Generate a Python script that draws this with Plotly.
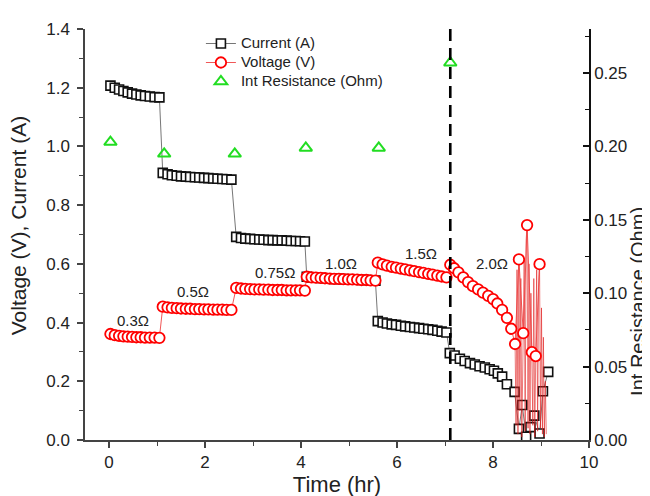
import plotly.graph_objects as go

# ---------------- data ----------------
time_hr = [
    # 0.3 ohm
    0.03, 0.12, 0.21, 0.30, 0.39, 0.48, 0.57, 0.66, 0.75, 0.85, 0.95, 1.05,
    # 0.5 ohm
    1.12, 1.22, 1.31, 1.41, 1.50, 1.60, 1.69, 1.79, 1.88, 1.98, 2.07, 2.17, 2.26, 2.36, 2.45, 2.55,
    # 0.75 ohm
    2.65, 2.75, 2.84, 2.94, 3.03, 3.13, 3.22, 3.32, 3.41, 3.51, 3.60, 3.70, 3.79, 3.89, 3.98, 4.08,
    # 1.0 ohm
    4.12, 4.22, 4.31, 4.41, 4.50, 4.60, 4.69, 4.79, 4.88, 4.98, 5.07, 5.17, 5.26, 5.36, 5.45, 5.55,
    # 1.5 ohm
    5.60, 5.70, 5.79, 5.89, 5.98, 6.08, 6.17, 6.27, 6.36, 6.46, 6.55, 6.65, 6.74, 6.84, 6.93, 7.03,
]

current_a = [
    1.207, 1.200, 1.194, 1.189, 1.184, 1.180, 1.177, 1.174, 1.172, 1.170, 1.168, 1.167,
    0.910, 0.905, 0.902, 0.900, 0.898, 0.897, 0.896, 0.895, 0.894, 0.893, 0.892, 0.891, 0.890, 0.889, 0.888, 0.887,
    0.692, 0.688, 0.686, 0.685, 0.684, 0.683, 0.682, 0.681, 0.681, 0.680, 0.680, 0.679, 0.678, 0.678, 0.677, 0.676,
    0.556, 0.554, 0.553, 0.552, 0.551, 0.550, 0.549, 0.549, 0.548, 0.547, 0.547, 0.546, 0.545, 0.545, 0.544, 0.543,
    0.405, 0.400, 0.397, 0.394, 0.392, 0.389, 0.387, 0.385, 0.383, 0.381, 0.379, 0.377, 0.375, 0.372, 0.369, 0.366,
]

voltage_v = [
    0.361, 0.357, 0.355, 0.353, 0.352, 0.351, 0.350, 0.350, 0.349, 0.349, 0.349, 0.348,
    0.454, 0.452, 0.450, 0.449, 0.448, 0.447, 0.447, 0.446, 0.446, 0.445, 0.445, 0.444, 0.444, 0.444, 0.443, 0.443,
    0.518, 0.516, 0.515, 0.514, 0.513, 0.513, 0.512, 0.512, 0.511, 0.511, 0.511, 0.510, 0.510, 0.510, 0.510, 0.509,
    0.556, 0.554, 0.553, 0.552, 0.551, 0.550, 0.549, 0.549, 0.548, 0.547, 0.547, 0.546, 0.545, 0.545, 0.544, 0.543,
    0.604, 0.598, 0.594, 0.590, 0.587, 0.584, 0.581, 0.578, 0.575, 0.572, 0.569, 0.566, 0.563, 0.560, 0.557, 0.554,
]

# 2.0 ohm segment and end of discharge
current_end_time = [7.10, 7.20, 7.31, 7.41, 7.52, 7.62, 7.72, 7.83, 7.93, 8.02, 8.10, 8.19, 8.29, 8.45,
                    8.54, 8.61, 8.69, 8.78, 8.86, 8.97, 9.04, 9.15]
current_end_a = [0.296, 0.288, 0.277, 0.269, 0.262, 0.257, 0.251, 0.247, 0.241, 0.236, 0.227, 0.216, 0.190, 0.164,
                 0.038, 0.119, 0.011, 0.044, 0.083, 0.022, 0.166, 0.232]

voltage_end_time = [7.11, 7.19, 7.28, 7.38, 7.48, 7.58, 7.69, 7.79, 7.90, 8.00, 8.09, 8.19, 8.29, 8.38, 8.46,
                    8.54, 8.63, 8.71, 8.81, 8.89, 8.97]
voltage_end_v = [0.597, 0.585, 0.571, 0.554, 0.538, 0.524, 0.513, 0.502, 0.491, 0.480, 0.465, 0.443, 0.416, 0.379, 0.327,
                 0.615, 0.364, 0.732, 0.299, 0.286, 0.599]

# raw (unmarked) voltage trace in the unstable end region
raw_end_time = [8.46, 8.48, 8.50, 8.52, 8.54, 8.56, 8.58, 8.60, 8.63, 8.65, 8.67, 8.69, 8.71, 8.73, 8.75,
                8.77, 8.79, 8.81, 8.83, 8.85, 8.87, 8.89, 8.91, 8.93, 8.95, 8.97, 8.99, 9.01, 9.03, 9.05,
                9.07, 9.09, 9.11]
raw_end_v = [0.327, 0.05, 0.58, 0.02, 0.615, 0.10, 0.55, 0.01, 0.364, 0.62, 0.03, 0.68, 0.732, 0.04, 0.60,
             0.02, 0.50, 0.299, 0.05, 0.55, 0.01, 0.286, 0.58, 0.03, 0.52, 0.599, 0.04, 0.45, 0.02, 0.35,
             0.01, 0.20, 0.02]

resistance_time = [0.03, 1.15, 2.62, 4.10, 5.62, 7.11]
int_resistance_ohm = [0.203, 0.195, 0.195, 0.199, 0.199, 0.257]

load_labels = ["0.3Ω", "0.5Ω", "0.75Ω", "1.0Ω", "1.5Ω", "2.0Ω"]
load_label_time = [0.51, 1.75, 3.45, 4.84, 6.51, 7.98]
load_label_v = [0.407, 0.505, 0.569, 0.602, 0.637, 0.600]

divider_time = 7.11

# ---------------- figure ----------------
FONT = "Liberation Sans, Arial, sans-serif"
TXT = "#222222"


def legend_name(s):
    return '<span style="font-size:15px">' + s + '</span>'


fig = go.Figure()

fig.add_trace(go.Scatter(
    x=time_hr + current_end_time, y=current_a + current_end_a,
    mode="lines+markers", name=legend_name("Current (A)"),
    line=dict(color="#666666", width=0.9),
    marker=dict(symbol="square", size=9, color="white", line=dict(color="#111111", width=1.6)),
))

fig.add_trace(go.Scatter(
    x=raw_end_time, y=raw_end_v, mode="lines", showlegend=False,
    line=dict(color="rgba(225,30,30,0.75)", width=0.8), hoverinfo="skip",
))

fig.add_trace(go.Scatter(
    x=time_hr + voltage_end_time, y=voltage_v + voltage_end_v,
    mode="lines+markers", name=legend_name("Voltage (V)"),
    line=dict(color="#ee4444", width=0.9),
    marker=dict(symbol="circle", size=10.5, color="white", line=dict(color="#ff0000", width=1.8)),
))

fig.add_trace(go.Scatter(
    x=resistance_time, y=int_resistance_ohm, yaxis="y2",
    mode="markers", name=legend_name("Int Resistance (Ohm)"),
    marker=dict(symbol="triangle-up-open", size=11, color="#22dd22", line=dict(color="#22dd22", width=2)),
))

for txt, tx, ty in zip(load_labels, load_label_time, load_label_v):
    fig.add_annotation(x=tx, y=ty, text=txt, showarrow=False,
                       font=dict(family=FONT, size=15, color=TXT))

# axis titles placed as in the reference
fig.add_annotation(xref="paper", yref="paper", x=0, y=0.52, xshift=-67, textangle=-90,
                   xanchor="center", yanchor="middle",
                   text="Voltage (V), Current (A)", showarrow=False,
                   font=dict(family=FONT, size=21, color=TXT))
fig.add_annotation(xref="paper", yref="paper", x=1, y=0.336, xshift=49, textangle=-90,
                   xanchor="center", yanchor="middle",
                   text="Int Resistance (Ohm)", showarrow=False,
                   font=dict(family=FONT, size=20, color=TXT))

fig.add_shape(type="line", xref="x", yref="paper", x0=divider_time, x1=divider_time, y0=0, y1=1,
              line=dict(color="black", width=2.6, dash="12px,7px"))

fig.update_layout(
    width=650, height=496,
    margin=dict(l=77, r=69, t=20, b=54),
    paper_bgcolor="white", plot_bgcolor="white",
    font=dict(family=FONT, size=17, color=TXT),
    showlegend=True,
    legend=dict(x=0.23, y=1.0, xanchor="left", yanchor="top",
                font=dict(family=FONT, size=12, color=TXT),
                bgcolor="rgba(0,0,0,0)", tracegroupgap=0),
    xaxis=dict(
        range=[-0.5, 10], tick0=0, dtick=2, ticks="outside", ticklen=6, tickwidth=1.5,
        tickcolor="#444444", showline=True, linecolor="#444444", linewidth=1.5,
        showgrid=False, zeroline=False,
        minor=dict(dtick=1, ticks="outside", ticklen=4, tickcolor="#444444", tickwidth=1.2, showgrid=False),
        tickfont=dict(size=17),
        title=dict(text="Time (hr)", font=dict(size=22), standoff=4),
    ),
    yaxis=dict(
        range=[0, 1.4], tick0=0, dtick=0.2, tickformat=".1f", ticks="outside", ticklen=6, tickwidth=1.5,
        tickcolor="#444444", showline=True, linecolor="#444444", linewidth=1.5,
        showgrid=False, zeroline=False, ticklabelstandoff=4,
        minor=dict(dtick=0.1, ticks="outside", ticklen=4, tickcolor="#444444", tickwidth=1.2, showgrid=False),
        tickfont=dict(size=17),
    ),
    yaxis2=dict(
        range=[0, 0.28], tick0=0, dtick=0.05, tickformat=".2f", overlaying="y", side="right", anchor="x",
        ticks="inside", ticklen=6, tickwidth=1.5, tickcolor="#111111",
        showline=True, linecolor="#111111", linewidth=1.5, showgrid=False, zeroline=False,
        minor=dict(dtick=0.025, ticks="inside", ticklen=4, tickcolor="#111111", tickwidth=1.2, showgrid=False),
        tickfont=dict(size=17),
    ),
)

fig.write_html("out.html")
